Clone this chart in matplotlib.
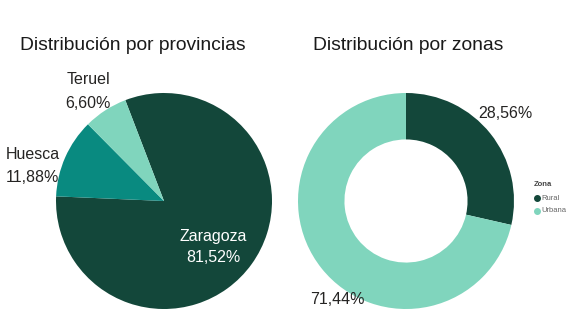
import matplotlib
matplotlib.use('Agg')
from matplotlib import pyplot as plt
from matplotlib.lines import Line2D

# datos
provincias = ['Zaragoza', 'Huesca', 'Teruel']
pct_provincias = [81.52, 11.88, 6.60]
col_provincias = ['#13473a', '#098a80', '#80d5bd']

zonas = ['Rural', 'Urbana']
pct_zonas = [28.56, 71.44]
col_zonas = ['#13473a', '#80d5bd']

W, H = 567, 334

def px(x, y):
    return x / W, 1 - y / H

def fmt(v):
    return ('%.2f%%' % v).replace('.', ',')

plt.rcParams['font.family'] = ['Liberation Sans', 'DejaVu Sans']
fig = plt.figure(figsize=(W / 100, H / 100), dpi=100)
fig.patch.set_facecolor('white')

# tarta de provincias
r = 108
ax1 = fig.add_axes([(164 - r) / W, (H - 201 - r) / H, 2 * r / W, 2 * r / H])
ax1.pie(pct_provincias, colors=col_provincias, startangle=111, counterclock=False,
        wedgeprops=dict(linewidth=0))
ax1.set_xlim(-1, 1)
ax1.set_ylim(-1, 1)

# donut de zonas
ax2 = fig.add_axes([(406 - r) / W, (H - 201 - r) / H, 2 * r / W, 2 * r / H])
ax2.pie(pct_zonas, colors=col_zonas, startangle=90, counterclock=False,
        wedgeprops=dict(width=0.43, linewidth=0))
ax2.set_xlim(-1, 1)
ax2.set_ylim(-1, 1)

# titulos
tfont = dict(fontsize=13.9, color='#1a1a1a', va='center')
fig.text(*px(20, 45), 'Distribución por provincias', **tfont)
fig.text(*px(313, 45), 'Distribución por zonas', **tfont)

# etiquetas
lab = dict(fontsize=11.5, color='#252423', va='center')
fig.text(*px(88, 80), provincias[2], ha='center', **lab)
fig.text(*px(88, 104), fmt(pct_provincias[2]), ha='center', **lab)
fig.text(*px(6, 155), provincias[1], ha='left', **lab)
fig.text(*px(6, 178), fmt(pct_provincias[1]), ha='left', **lab)
fig.text(*px(213, 236), provincias[0], ha='center', fontsize=11.5, color='white', va='center')
fig.text(*px(213, 258), fmt(pct_provincias[0]), ha='center', fontsize=11.5, color='white', va='center')
fig.text(*px(505, 114), fmt(pct_zonas[0]), ha='center', **lab)
fig.text(*px(337, 299), fmt(pct_zonas[1]), ha='center', **lab)

# leyenda
fig.text(*px(534, 185), 'Zona', fontsize=5.5, fontweight='bold', color='#444444', va='center')
for i, (z, c) in enumerate(zip(zonas, col_zonas)):
    y = 198 + 13 * i
    fig.add_artist(Line2D([px(537, y)[0]], [px(537, y)[1]], marker='o', markersize=4,
                          color=c, linestyle='none', transform=fig.transFigure))
    fig.text(*px(541, y), z, fontsize=5.5, color='#666666', va='center')

fig.savefig('out.png', dpi=100)
